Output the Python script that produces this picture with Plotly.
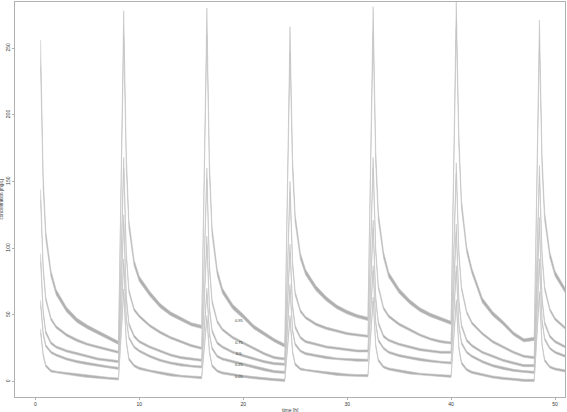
import plotly.graph_objects as go

# sampling times (h): dose every 8 h, peak 0.5 h after each dose
time_h = [0.5, 0.75, 1, 1.5, 2, 3, 4, 5, 6, 7, 8,
          8.5, 8.75, 9, 9.5, 10, 11, 12, 13, 14, 15, 16,
          16.5, 16.75, 17, 17.5, 18, 19, 20, 21, 22, 23, 24,
          24.5, 24.75, 25, 25.5, 26, 27, 28, 29, 30, 31, 32,
          32.5, 32.75, 33, 33.5, 34, 35, 36, 37, 38, 39, 40,
          40.5, 40.75, 41, 41.5, 42, 43, 44, 45, 46, 47, 48,
          48.5, 48.75, 49, 49.5, 50, 51]

# percentile curves of concentration (mg/L)
q95 = [246, 150, 110, 81, 67, 54, 46, 41, 37, 33, 29,
       268, 165, 118, 89, 77, 66, 57, 51, 47, 43, 41,
       270, 160, 113, 82, 68, 56, 49, 41, 36, 31, 27,
       256, 162, 122, 94, 82, 70, 62, 56, 52, 49, 47,
       271, 168, 124, 95, 80, 68, 60, 54, 50, 47, 44,
       275, 180, 133, 99, 83, 61, 51, 44, 36, 31, 32,
       261, 165, 124, 95, 81, 68]
q75 = [140, 85, 62, 47, 41, 35, 31, 28, 26, 24, 22,
       164, 95, 68, 54, 49, 42, 37, 33, 30, 27, 25,
       156, 86, 60, 45, 39, 33, 29, 25, 21, 18, 17,
       146, 88, 66, 53, 48, 43, 40, 38, 36, 35, 34,
       164, 98, 71, 55, 49, 43, 39, 35, 32, 30, 29,
       160, 96, 70, 52, 44, 36, 30, 26, 22, 19, 18,
       158, 95, 70, 54, 47, 40]
q50 = [93, 52, 37, 29, 26, 23, 21, 19, 17, 16, 15,
       122, 63, 43, 34, 30, 26, 23, 20, 18, 17, 16,
       106, 55, 38, 29, 26, 22, 19.5, 17, 15, 13.5, 13,
       100, 56, 41, 33, 30, 28, 26, 25, 24, 23, 23,
       118, 62, 44, 34, 31, 28, 26, 24, 23, 22, 22,
       115, 60, 42, 31, 27, 22, 19, 16, 14, 12, 12,
       120, 62, 44, 34, 30, 26]
q25 = [59, 36, 27, 22, 20, 17, 15, 13.5, 12, 11, 10,
       90, 47, 33, 26, 23, 19, 16, 14, 12.5, 11.5, 11,
       68, 36, 25, 19, 17, 15, 13, 11, 9, 7.5, 7,
       71, 38, 28, 23, 21, 19.5, 18, 17, 16.5, 16, 16,
       85, 44, 31, 25, 22, 19.5, 18, 16.5, 15.5, 14.5, 14,
       85, 42, 29, 22, 19, 15, 12, 10, 8.5, 7.5, 7,
       90, 46, 32, 25, 22, 19]
q05 = [38, 20, 12, 8, 7, 6, 5, 4, 3, 2.5, 2,
       68, 30, 17, 12, 10, 8, 6.5, 5, 4, 3.5, 3,
       48, 22, 12, 8, 6.5, 5, 4, 3, 2, 1.5, 1,
       48, 22, 13, 9.5, 8.5, 7.5, 6.5, 5.5, 5, 4.5, 4.5,
       62, 27, 16, 11, 9.5, 8, 6.5, 5.5, 5, 4.5, 4,
       60, 25, 14, 9, 7, 5, 3.5, 2.5, 1.5, 1, 1,
       66, 28, 16, 11, 9.5, 8]

# half width of the confidence band, per offset within a dosing interval
hw95 = [10, 5, 3, 2.2, 2, 1.8, 1.6, 1.4, 1.3, 1.2, 1.2]
hw75 = [4, 2, 1.3, 1, 0.9, 0.9, 0.9, 0.8, 0.8, 0.8, 0.8]
hw50 = [3, 1.5, 1.1, 0.9, 0.8, 0.8, 0.8, 0.8, 0.8, 0.8, 0.8]
hw25 = [2, 1.2, 0.9, 0.8, 0.8, 0.8, 0.8, 0.8, 0.8, 0.8, 0.8]
hw05 = [1.5, 1, 0.9, 0.8, 0.8, 0.8, 0.8, 0.8, 0.8, 0.8, 0.8]

labels = ["0.95", "0.75", "0.5", "0.25", "0.05"]

fig = go.Figure()

for med, hw in [(q95, hw95), (q75, hw75), (q50, hw50), (q25, hw25), (q05, hw05)]:
    full_hw = hw * 6 + hw[:6]
    hi = [m + w for m, w in zip(med, full_hw)]
    lo = [max(m - w, 0) for m, w in zip(med, full_hw)]
    fig.add_trace(go.Scatter(
        x=time_h + time_h[::-1],
        y=hi + lo[::-1],
        fill="toself",
        fillcolor="rgba(150,150,150,0.75)",
        line=dict(color="#c4c4c4", width=0.6),
        mode="lines",
        hoverinfo="skip",
        showlegend=False
    ))

# quantile labels
label_y = [46, 29, 21, 13, 4]
for lab, yv in zip(labels, label_y):
    fig.add_annotation(x=19.6, y=yv, text=lab, showarrow=False,
                       font=dict(size=4, color="#333333"))

# axis titles
fig.add_annotation(x=0.5, y=0, xref="paper", yref="paper", yanchor="top",
                   yshift=-8, text="time [h]", showarrow=False,
                   font=dict(size=5, color="#333333"))
fig.add_annotation(x=0, y=0.5, xref="paper", yref="paper", xanchor="right",
                   xshift=-9.5, textangle=-90, text="concentration [mg/L]",
                   showarrow=False, font=dict(size=4.5, color="#333333"))

fig.update_layout(
    width=567, height=412,
    margin=dict(l=15, r=2, t=2, b=15),
    paper_bgcolor="white", plot_bgcolor="white",
    font=dict(family="Liberation Sans, Arial, sans-serif", size=5, color="#333333")
)

fig.update_xaxes(
    range=[-1.96, 50.96],
    tickvals=[0, 10, 20, 30, 40, 50],
    showgrid=False, zeroline=False, automargin=False,
    showline=True, linecolor="#b0b0b0", linewidth=1, mirror=True,
    ticks="outside", ticklen=2, tickcolor="#b0b0b0"
)

fig.update_yaxes(
    range=[-11.5, 284.5],
    tickvals=[0, 50, 100, 150, 200, 250],
    tickangle=-90,
    showgrid=False, zeroline=False, automargin=False,
    showline=True, linecolor="#b0b0b0", linewidth=1, mirror=True,
    ticks="outside", ticklen=2, tickcolor="#b0b0b0"
)

# drop the default page margin so the figure fills the window
fig.write_html("out.html", config={"displayModeBar": False},
               post_script="document.body.style.margin='0';")
